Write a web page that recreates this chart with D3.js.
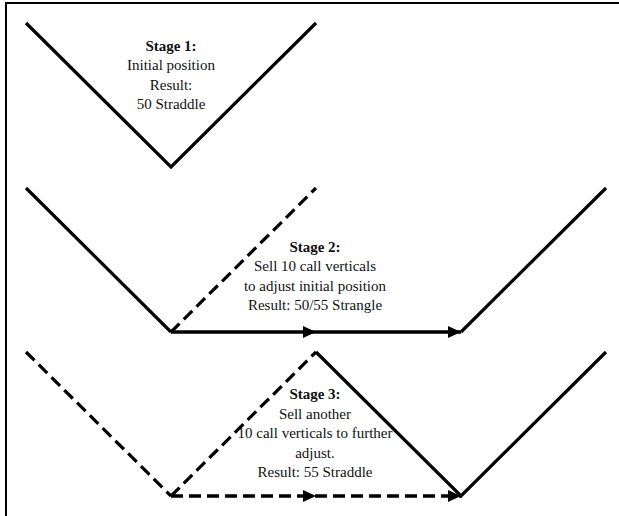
<!DOCTYPE html>
<html>
<head>
<meta charset="utf-8">
<script src="https://cdn.jsdelivr.net/npm/d3@7"></script>
<style>
  body { margin: 0; background: #fff; }
  text { font-family: "Liberation Serif", "Times New Roman", serif; font-size: 15px; fill: #111; }
</style>
</head>
<body>
<div id="chart"></div>
<script>
// underlying price (schematic strike axis) and payoff levels
const strikes = [45, 50, 55, 60, 65];

// stage 1: the 50 straddle
const stage1Solid = [[[45, 10], [50, 0], [55, 10]]];
const stage1Dashed = [];
const stage1Arrow = null;

// stage 2: sell 10 call verticals -> 50/55 strangle
const stage2Solid = [[[45, 10], [50, 0]], [[60, 0], [65, 10]]];
const stage2Dashed = [[[50, 0], [55, 10]]];
const stage2Arrow = {from: 50, mid: 55, to: 60, dashed: false};

// stage 3: sell another 10 -> 55 straddle
const stage3Solid = [[[55, 10], [60, 0], [65, 10]]];
const stage3Dashed = [[[45, 10], [50, 0]], [[50, 0], [55, 10]]];
const stage3Arrow = {from: 50, mid: 55, to: 60, dashed: true};

const stageText = [
  ["Stage 1:", "Initial position", "Result:", "50 Straddle"],
  ["Stage 2:", "Sell 10 call verticals", "to adjust initial position", "Result: 50/55 Strangle"],
  ["Stage 3:", "Sell another", "10 call verticals to further", "adjust.", "Result: 55 Straddle"]
];
const textCenter = [50, 55, 55];

const width = 619, height = 516;

const svg = d3.select("#chart").append("svg")
  .attr("width", width)
  .attr("height", height);

// frame (left and top edges only)
svg.append("path")
  .attr("d", "M6,516 V3 H619")
  .attr("fill", "none")
  .attr("stroke", "#000")
  .attr("stroke-width", 2);

const x = d3.scaleLinear().domain(d3.extent(strikes)).range([26, 606]);

const bottoms = [167, 332, 496];
const yScales = bottoms.map(b => d3.scaleLinear().domain([0, 10]).range([b, b - 144]));

const stages = [
  {solid: stage1Solid, dashed: stage1Dashed, arrow: stage1Arrow},
  {solid: stage2Solid, dashed: stage2Dashed, arrow: stage2Arrow},
  {solid: stage3Solid, dashed: stage3Dashed, arrow: stage3Arrow}
];

function arrowHead(g, px, py) {
  g.append("path")
    .attr("d", `M${px},${py} L${px - 13},${py - 6} L${px - 13},${py + 6} Z`)
    .attr("fill", "#000");
}

stages.forEach((st, i) => {
  const y = yScales[i];
  const line = d3.line().x(d => x(d[0])).y(d => y(d[1]));
  const g = svg.append("g");

  st.dashed.forEach(seg => {
    g.append("path")
      .attr("d", line(seg))
      .attr("fill", "none")
      .attr("stroke", "#000")
      .attr("stroke-width", 3.2)
      .attr("stroke-dasharray", "12,6");
  });

  if (st.arrow) {
    const a = st.arrow;
    g.append("path")
      .attr("d", line([[a.from, 0], [a.to, 0]]))
      .attr("fill", "none")
      .attr("stroke", "#000")
      .attr("stroke-width", 3.5)
      .attr("stroke-dasharray", a.dashed ? "12,6" : null);
    arrowHead(g, x(a.mid), y(0));
    arrowHead(g, x(a.to), y(0));
  }

  st.solid.forEach(seg => {
    g.append("path")
      .attr("d", line(seg))
      .attr("fill", "none")
      .attr("stroke", "#000")
      .attr("stroke-width", 3.2)
      .attr("stroke-linejoin", "miter");
  });

  const lines = stageText[i];
  const lineH = 19.4;
  const lift = i === 1 ? 22 : 19;
  const firstBase = i === 0 ? y(10) + 28 : y(0) - lift - lineH * (lines.length - 1);
  g.selectAll("text.t")
    .data(lines)
    .join("text")
    .attr("x", x(textCenter[i]) + (i === 0 ? 0 : -1))
    .attr("y", (d, k) => firstBase + k * lineH)
    .attr("text-anchor", "middle")
    .style("font-weight", (d, k) => k === 0 ? "bold" : "normal")
    .text(d => d);
});
</script>
</body>
</html>
